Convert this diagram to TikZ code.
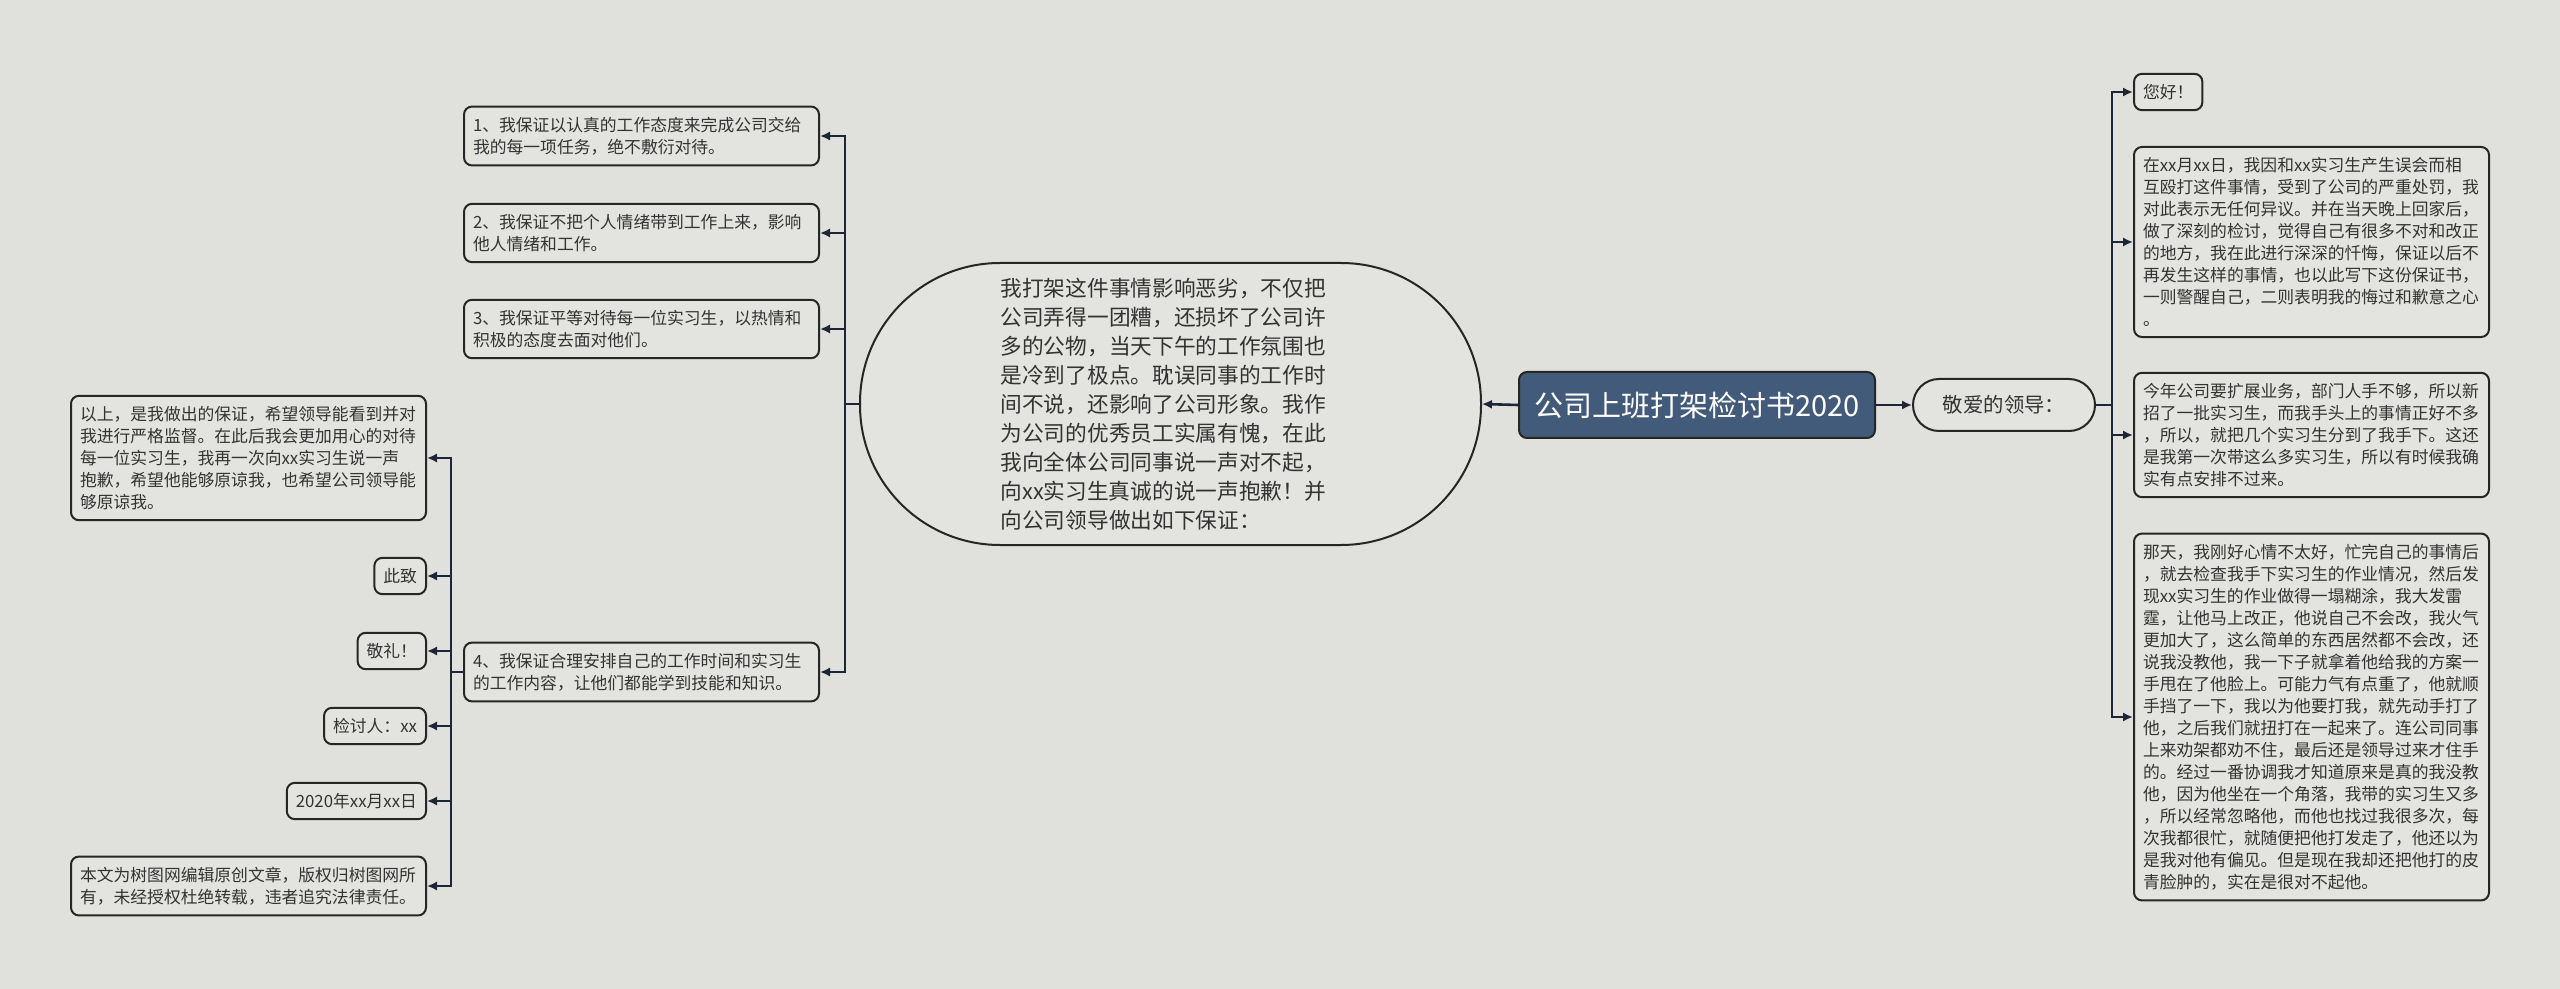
\documentclass[tikz,border=0pt]{standalone}
\usepackage{fontspec}
\setmainfont{Noto Sans CJK SC}
\usepackage{tikz}
\usetikzlibrary{arrows.meta}
\definecolor{bgc}{HTML}{E0E0DC}
\definecolor{boxc}{HTML}{E3E3DF}
\definecolor{linec}{HTML}{1C2636}
\definecolor{rootc}{HTML}{435B7A}
\definecolor{textc}{HTML}{333333}
\tikzset{l/.style={font=\fontsize{8.4}{11}\selectfont}}
\tikzset{m/.style={font=\fontsize{10.85}{14.5}\selectfont}}
\tikzset{box/.style={draw=black!85, line width=1pt, fill=boxc, rounded corners=4pt, text=textc, inner xsep=4.5pt, inner ysep=5.2pt}}
\tikzset{wide/.style={box, l, text width=168.5pt, align=left}}
\tikzset{link/.style={draw=linec, line width=1.3pt, -{Latex[length=5pt,width=4.6pt]}}}

\begin{document}
\begin{tikzpicture}[x=0.5pt, y=-0.5pt]
        \fill[bgc] (0,0) rectangle (2560,989);
        \useasboundingbox (0,0) rectangle (2560,989);
        % centre
        \node (root) at (1697,405) [box, fill=rootc, text=white, minimum width=178pt, minimum height=33pt, font=\fontsize{14.5}{16}\selectfont] {公司上班打架检讨书2020};
        \node (ell) at (1170.5,404) [box, m, rounded corners=70pt, minimum width=310.5pt, minimum height=141pt, text width=170pt, align=left] {我打架这件事情影响恶劣，不仅把\\公司弄得一团糟，还损坏了公司许\\多的公物，当天下午的工作氛围也\\是冷到了极点。耽误同事的工作时\\间不说，还影响了公司形象。我作\\为公司的优秀员工实属有愧，在此\\我向全体公司同事说一声对不起，\\向xx实习生真诚的说一声抱歉！并\\向公司领导做出如下保证：};
        \node (lead) at (2004,405) [box, rounded corners=13pt, minimum width=91pt, minimum height=26pt, font=\fontsize{10.2}{12}\selectfont] {敬爱的领导：};
        % right side
        \node (r0) at (2133,92) [box, l, anchor=west] {您好！};
        \node (r1) at (2133,242) [wide, anchor=west] {在xx月xx日，我因和xx实习生产生误会而相\\互殴打这件事情，受到了公司的严重处罚，我\\对此表示无任何异议。并在当天晚上回家后，\\做了深刻的检讨，觉得自己有很多不对和改正\\的地方，我在此进行深深的忏悔，保证以后不\\再发生这样的事情，也以此写下这份保证书，\\一则警醒自己，二则表明我的悔过和歉意之心\\。};
        \node (r2) at (2133,435) [wide, anchor=west] {今年公司要扩展业务，部门人手不够，所以新\\招了一批实习生，而我手头上的事情正好不多\\，所以，就把几个实习生分到了我手下。这还\\是我第一次带这么多实习生，所以有时候我确\\实有点安排不过来。};
        \node (r3) at (2133,717) [wide, anchor=west] {那天，我刚好心情不太好，忙完自己的事情后\\，就去检查我手下实习生的作业情况，然后发\\现xx实习生的作业做得一塌糊涂，我大发雷\\霆，让他马上改正，他说自己不会改，我火气\\更加大了，这么简单的东西居然都不会改，还\\说我没教他，我一下子就拿着他给我的方案一\\手甩在了他脸上。可能力气有点重了，他就顺\\手挡了一下，我以为他要打我，就先动手打了\\他，之后我们就扭打在一起来了。连公司同事\\上来劝架都劝不住，最后还是领导过来才住手\\的。经过一番协调我才知道原来是真的我没教\\他，因为他坐在一个角落，我带的实习生又多\\，所以经常忽略他，而他也找过我很多次，每\\次我都很忙，就随便把他打发走了，他还以为\\是我对他有偏见。但是现在我却还把他打的皮\\青脸肿的，实在是很对不起他。};
        % left side
        \node (p1) at (820,136) [wide, anchor=east] {1、我保证以认真的工作态度来完成公司交给\\我的每一项任务，绝不敷衍对待。};
        \node (p2) at (820,233) [wide, anchor=east] {2、我保证不把个人情绪带到工作上来，影响\\他人情绪和工作。};
        \node (p3) at (820,329) [wide, anchor=east] {3、我保证平等对待每一位实习生，以热情和\\积极的态度去面对他们。};
        \node (p4) at (820,672) [wide, anchor=east] {4、我保证合理安排自己的工作时间和实习生\\的工作内容，让他们都能学到技能和知识。};
        \node (s1) at (427,458) [wide, anchor=east] {以上，是我做出的保证，希望领导能看到并对\\我进行严格监督。在此后我会更加用心的对待\\每一位实习生，我再一次向xx实习生说一声\\抱歉，希望他能够原谅我，也希望公司领导能\\够原谅我。};
        \node (s2) at (427,576) [box, l, anchor=east] {此致};
        \node (s3) at (427,651) [box, l, anchor=east] {敬礼！};
        \node (s4) at (427,726) [box, l, anchor=east] {检讨人：xx};
        \node (s5) at (427,801) [box, l, anchor=east] {2020年xx月xx日};
        \node (s6) at (427,886) [wide, anchor=east] {本文为树图网编辑原创文章，版权归树图网所\\有，未经授权杜绝转载，违者追究法律责任。};
        % connectors
        \coordinate (rt) at (2112,405);
        \coordinate (lt) at (845,404);
        \coordinate (st) at (451,672);
        \draw[link] (root.west) -- (ell.east);
        \draw[link] (root.east) -- (lead.west);
        \foreach \n in {r0,r1,r2,r3}
          \draw[link] (lead.east) -- (rt) |- (\n.west);
        \foreach \n in {p1,p2,p3,p4}
          \draw[link] (ell.west) -- (lt) |- (\n.east);
        \foreach \n in {s1,s2,s3,s4,s5,s6}
          \draw[link] (p4.west) -- (st) |- (\n.east);
\end{tikzpicture}
\end{document}
